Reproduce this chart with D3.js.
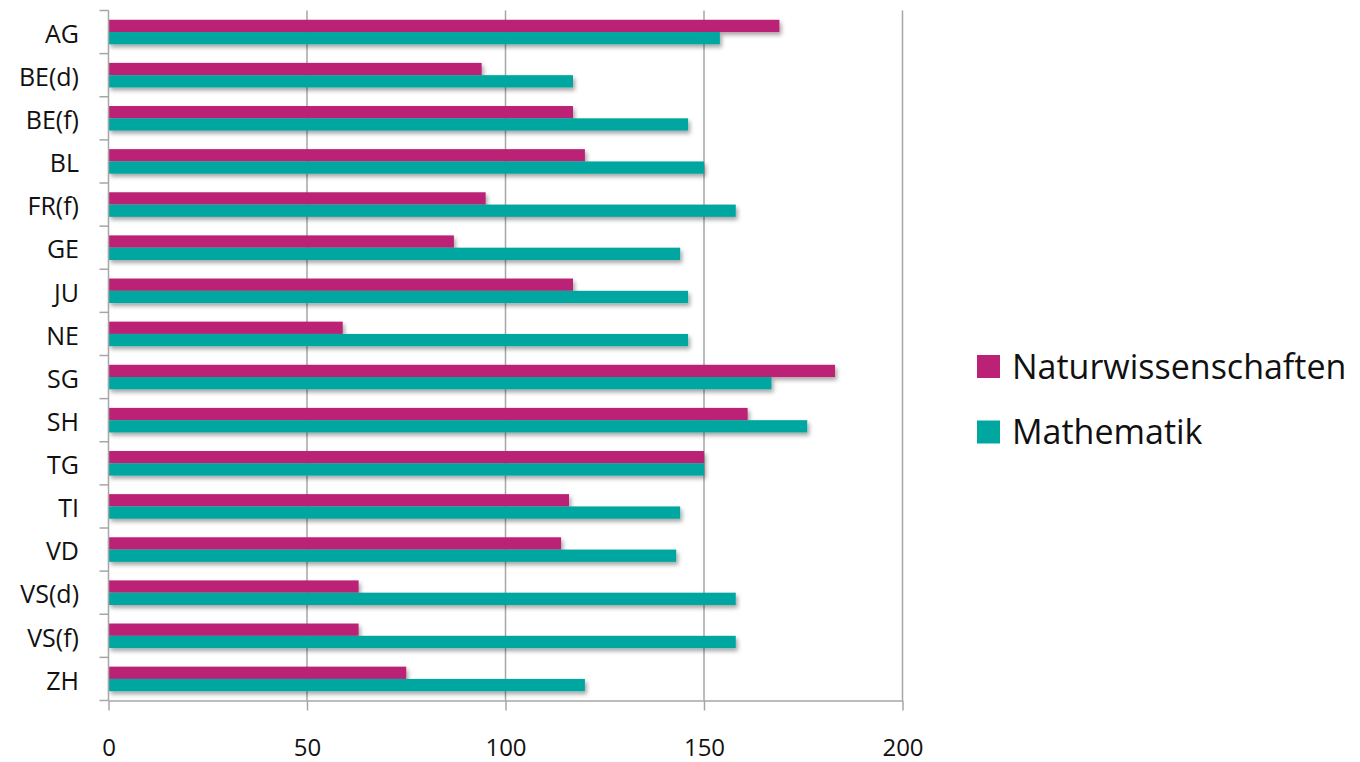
<!doctype html>
<html>
<head>
<meta charset="utf-8">
<script src="https://d3js.org/d3.v7.min.js"></script>
<style>
  body { margin: 0; background: #fff; }
  text { font-family: "Open Sans", sans-serif; fill: #111; }
</style>
</head>
<body>
<svg id="chart" width="1360" height="762"></svg>
<script>
// categories (top to bottom)
const cantons = ["AG","BE(d)","BE(f)","BL","FR(f)","GE","JU","NE","SG","SH","TG","TI","VD","VS(d)","VS(f)","ZH"];
const naturwissenschaften = [169, 94, 117, 120, 95, 87, 117, 59, 183, 161, 150, 116, 114, 63, 63, 75];
const mathematik = [154, 117, 146, 150, 158, 144, 146, 146, 167, 176, 150, 144, 143, 158, 158, 120];
const seriesNames = ["Naturwissenschaften", "Mathematik"];
const seriesColors = ["#bb2175", "#00a6a0"];
const xTicks = [0, 50, 100, 150, 200];

const svg = d3.select("#chart");
const plotLeft = 108.5, plotRight = 902.5, plotTop = 10.5, plotBottom = 700.5;

const x = d3.scaleLinear().domain([0, 200]).range([plotLeft, plotRight]);
const y = d3.scaleBand().domain(cantons).range([plotTop, plotBottom]).padding(0);
const bw = y.bandwidth();
const ySub = d3.scaleBand().domain(seriesNames).range([bw * 0.215, bw * 0.785]).padding(0);
const color = d3.scaleOrdinal().domain(seriesNames).range(seriesColors);

const defs = svg.append("defs");
const f = defs.append("filter").attr("id", "shadow")
  .attr("x", "-5%").attr("y", "-40%").attr("width", "115%").attr("height", "200%");
f.append("feDropShadow").attr("dx", 2).attr("dy", 3).attr("stdDeviation", 2)
  .attr("flood-color", "#000").attr("flood-opacity", 0.35);

// vertical grid lines
svg.append("g").selectAll("line")
  .data(xTicks.slice(1))
  .join("line")
  .attr("x1", d => x(d)).attr("x2", d => x(d))
  .attr("y1", plotTop).attr("y2", plotBottom)
  .attr("stroke", "#a6a6a6").attr("stroke-width", 1.5);

// bars
const rows = cantons.map((c, i) => ({ canton: c, values: [naturwissenschaften[i], mathematik[i]] }));
const groups = svg.append("g").selectAll("g")
  .data(rows)
  .join("g")
  .attr("transform", d => "translate(0," + y(d.canton) + ")");
groups.selectAll("rect")
  .data(d => d.values.map((v, k) => ({ name: seriesNames[k], value: v })))
  .join("rect")
  .attr("x", x(0))
  .attr("y", d => ySub(d.name))
  .attr("width", d => x(d.value) - x(0))
  .attr("height", ySub.bandwidth())
  .attr("fill", d => color(d.name))
  .attr("filter", "url(#shadow)");

// x axis
const xAxis = svg.append("g")
  .attr("transform", "translate(0," + plotBottom + ")")
  .call(d3.axisBottom(x).tickValues(xTicks).tickSize(10).tickPadding(28).tickSizeOuter(0));
xAxis.select(".domain").attr("stroke", "#a6a6a6").attr("stroke-width", 1.5);
xAxis.selectAll(".tick line").attr("stroke", "#a6a6a6").attr("stroke-width", 1.5);
xAxis.selectAll("text").style("font-family", "Open Sans, sans-serif").style("font-size", "24px").attr("fill", "#111");

// y axis: ticks on band boundaries
const yAxis = svg.append("g");
yAxis.append("line")
  .attr("x1", plotLeft).attr("x2", plotLeft).attr("y1", plotTop).attr("y2", plotBottom)
  .attr("stroke", "#a6a6a6").attr("stroke-width", 1.5);
const bounds = cantons.map(c => y(c)).concat([plotBottom]);
yAxis.selectAll(".yt")
  .data(bounds)
  .join("line")
  .attr("class", "yt")
  .attr("x1", plotLeft - 9).attr("x2", plotLeft)
  .attr("y1", d => d).attr("y2", d => d)
  .attr("stroke", "#a6a6a6").attr("stroke-width", 1.5);
yAxis.selectAll("text")
  .data(cantons)
  .join("text")
  .attr("x", 79)
  .attr("y", d => y(d) + bw / 2 + 2)
  .attr("dy", "0.35em")
  .attr("text-anchor", "end")
  .style("font-size", "25px")
  .text(d => d);

// legend
const legend = svg.append("g").attr("transform", "translate(977,355)");
const items = legend.selectAll("g")
  .data(seriesNames)
  .join("g")
  .attr("transform", (d, i) => "translate(0," + i * 65.5 + ")");
items.append("rect")
  .attr("width", 23).attr("height", 23)
  .attr("fill", d => color(d));
items.append("text")
  .attr("x", 35).attr("y", 12)
  .attr("dy", "0.35em")
  .style("font-size", "34px")
  .text(d => d);
</script>
</body>
</html>
